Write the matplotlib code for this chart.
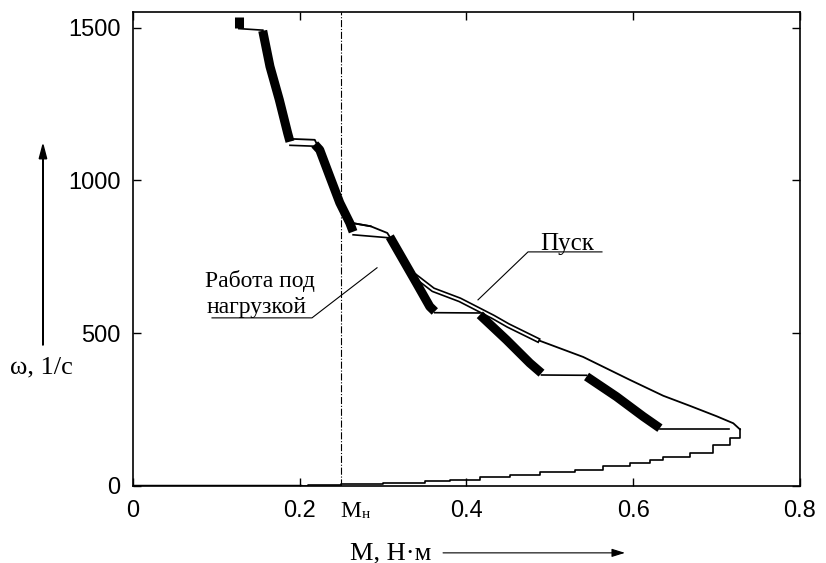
import matplotlib
matplotlib.use("Agg")
import matplotlib.pyplot as plt
from matplotlib.patches import FancyArrow

# --- data ---
# thick band: steady operation under load (segments of the stepped characteristic)
load_segments = [
    ([0.127, 0.127], [1535, 1500]),
    ([0.1556, 0.1643, 0.1755, 0.1855, 0.1883], [1490, 1373, 1264, 1155, 1127]),
    ([0.218, 0.224, 0.236, 0.248, 0.260, 0.264], [1118, 1100, 1013, 927, 861, 832]),
    ([0.308, 0.324, 0.340, 0.356, 0.362], [816, 740, 664, 587, 571]),
    ([0.416, 0.448, 0.476, 0.490], [560, 478, 402, 369]),
    ([0.544, 0.580, 0.612, 0.632], [358, 292, 227, 189]),
]
# thin transitions between the thick parts
step_x = [[0.127, 0.1556], [0.1883, 0.218], [0.264, 0.308], [0.362, 0.416], [0.490, 0.544], [0.632, 0.715]]
step_y = [[1497, 1492], [1115, 1112], [822, 812], [567, 566], [363, 362], [187, 187]]

# start-up ("Пуск"): along the axis, then up to the peak torque
start_low_x = [0.0, 0.20, 0.21, 0.25, 0.30, 0.35, 0.38, 0.416, 0.452, 0.488, 0.530,
               0.564, 0.596, 0.620, 0.636, 0.668, 0.696, 0.716, 0.728]
start_low_y = [0, 0, 3, 6, 10, 15, 20, 30, 36, 46, 52, 65, 75, 85, 95, 108, 134, 157, 185]
# start-up, back along the upper branch
start_up_x = [0.728, 0.720, 0.700, 0.668, 0.636, 0.596, 0.540, 0.485, 0.450, 0.432,
              0.392, 0.360, 0.340, 0.320, 0.305, 0.285, 0.264, 0.260, 0.248, 0.236,
              0.224, 0.218, 0.190, 0.1883, 0.1855, 0.1755, 0.1643, 0.1556]
start_up_y = [185, 205, 228, 262, 295, 347, 422, 478, 525, 553,
              609, 642, 684, 763, 828, 850, 860, 861, 927, 1013,
              1100, 1133, 1136, 1140, 1155, 1264, 1373, 1490]

M_nom = 0.25
x_ticks = [0, 0.2, 0.4, 0.6, 0.8]
x_ticklabels = ["0", "0.2", "0.4", "0.6", "0.8"]
y_ticks = [0, 500, 1000, 1500]

serif = "Liberation Serif"

fig = plt.figure(figsize=(8.26, 5.63), dpi=100)
ax = fig.add_axes([0.161, 0.137, 0.8075, 0.842])

# start-up curve first, the load band goes on top of it
ax.plot(start_low_x[:2], start_low_y[:2], color="black", lw=2.5)
ax.plot(start_low_x[1:], start_low_y[1:], color="black", lw=1.2, drawstyle="steps-post")
ax.plot(start_up_x, start_up_y, color="black", lw=1.3)
# hollow double-line look on part of the upper branch
ax.plot(start_up_x[7:13], start_up_y[7:13], color="black", lw=3.8)
ax.plot(start_up_x[7:13], start_up_y[7:13], color="white", lw=1.4)
ax.plot(start_up_x[15:18], start_up_y[15:18], color="black", lw=1.3)

for xs, ys in zip(step_x, step_y):
    ax.plot(xs, ys, color="black", lw=1.2, zorder=3)
for xs, ys in load_segments:
    ax.plot(xs, ys, color="black", lw=6.5, solid_capstyle="butt", zorder=4)

ax.axvline(M_nom, color="black", lw=0.8, ls="-.", zorder=1)

ax.set_xlim(0, 0.8)
ax.set_ylim(0, 1552)
ax.set_xticks(x_ticks)
ax.set_xticklabels(x_ticklabels)
ax.set_yticks(y_ticks)
ax.tick_params(direction="in", length=6, width=1, top=True, right=True, labelsize=17)
ax.tick_params(axis="x", pad=10)
ax.tick_params(axis="y", pad=9)
for lab in ax.get_xticklabels() + ax.get_yticklabels():
    lab.set_family("Liberation Sans")
for s in ax.spines.values():
    s.set_linewidth(1.2)

# "Работа под нагрузкой" with its leader
ax.text(0.0864, 651, "Работа под", family=serif, fontsize=17, ha="left", va="baseline")
ax.text(0.0880, 566, "нагрузкой", family=serif, fontsize=17, ha="left", va="baseline")
ax.plot([0.0948, 0.2147, 0.2927], [550, 550, 714], color="black", lw=0.8)

# "Пуск" with its leader
ax.text(0.488, 773, "Пуск", family=serif, fontsize=18, ha="left", va="baseline")
ax.plot([0.5625, 0.4738, 0.4138], [766, 766, 609], color="black", lw=0.8)

# M_н under the dashed line
ax.text(0.2483, -101, "M", family=serif, fontsize=17, ha="left", va="baseline", clip_on=False)
ax.text(0.2740, -104, "н", family=serif, fontsize=11, ha="left", va="baseline", clip_on=False)

# axis captions with arrows
fig.text(0.0121, 0.336, "ω, 1/с", family=serif, fontsize=19, ha="left", va="baseline")
fig.patches.append(FancyArrow(
    0.052, 0.387, 0, 0.356, width=0.0005, head_width=0.009, head_length=0.025,
    color="black", transform=fig.transFigure, figure=fig, length_includes_head=True))

fig.text(0.4237, 0.006, "M, Н·м", family=serif, fontsize=19, ha="left", va="baseline")
ax.annotate("", xy=(0.760, 0.018), xytext=(0.533, 0.018), xycoords="figure fraction",
            arrowprops=dict(arrowstyle="-|>,head_length=0.8,head_width=0.25",
                            lw=0.8, color="black"))

fig.savefig("out.png", dpi=100)
